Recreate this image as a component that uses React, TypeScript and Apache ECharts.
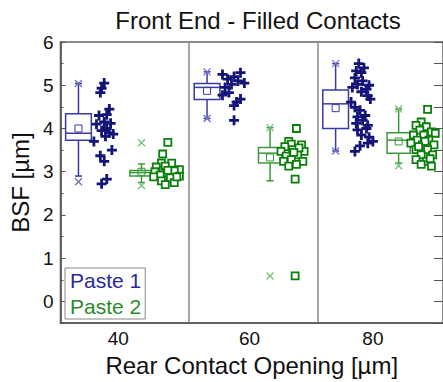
import React, { useEffect, useRef } from "react";
import * as echarts from "echarts";

const categories = ["40", "60", "80"];
const yMajorTicks = [0, 1, 2, 3, 4, 5, 6];
const yMinorTicks = [-0.5, 0.5, 1.5, 2.5, 3.5, 4.5, 5.5];

// box stats per category: [whiskerLow, q1, median, q3, whiskerHigh, mean]
const paste1Box = [
  [2.9, 3.73, 3.89, 4.34, 5.04, 4.0],
  [4.23, 4.67, 4.95, 5.04, 5.31, 4.87],
  [3.48, 4.0, 4.57, 4.89, 5.5, 4.47],
];
const paste2Box = [
  [2.75, 2.9, 2.98, 3.03, 3.18, 3.0],
  [2.79, 3.2, 3.43, 3.56, 4.02, 3.33],
  [3.2, 3.43, 3.73, 3.9, 4.45, 3.7],
];

// extreme markers (x) : [categoryIndex, value]
const paste1Extremes = [
  [0, 5.04], [0, 2.77], [1, 5.31], [1, 4.23], [2, 5.5], [2, 3.48],
];
const paste2Extremes = [
  [0, 3.67], [0, 2.68], [1, 4.02], [1, 0.59], [2, 4.45], [2, 3.14],
];

// raw points: [jitter, value]
const paste1Pts40 = [
  [-0.01, 5.05], [-0.03, 4.93], [-0.04, 4.83], [0.03, 4.45], [0.01, 4.32],
  [-0.05, 4.3], [-0.01, 4.15], [0.04, 4.12], [-0.07, 4.1], [0.01, 4.0],
  [-0.03, 3.95], [0.06, 3.87], [0.0, 3.82], [0.03, 3.9], [-0.09, 3.7],
  [0.05, 3.5], [-0.04, 3.37], [-0.01, 3.24], [0.01, 2.83], [-0.03, 2.72],
];
const paste1Pts60 = [
  [-0.09, 5.25], [0.05, 5.29], [0.0, 5.2], [-0.05, 5.14], [0.08, 5.05],
  [-0.02, 5.02], [0.03, 5.1], [-0.07, 4.95], [-0.04, 4.83], [-0.09, 4.77],
  [0.05, 4.68], [0.02, 4.61], [0.0, 4.53], [0.0, 4.19],
];
const paste1Pts80 = [
  [-0.03, 5.5], [-0.05, 5.33], [-0.01, 5.29], [0.01, 5.4], [-0.06, 5.17],
  [0.0, 5.1], [-0.04, 5.02], [0.05, 5.0], [-0.08, 4.95], [0.03, 4.91],
  [-0.01, 4.85], [0.04, 4.76], [0.06, 4.68], [-0.09, 4.61], [-0.06, 4.49],
  [-0.02, 4.42], [0.02, 4.3], [-0.04, 4.27], [0.0, 4.19], [-0.05, 4.12],
  [0.04, 4.07], [0.03, 4.0], [-0.04, 3.97], [-0.01, 3.85], [0.05, 3.8],
  [0.08, 3.7], [0.04, 3.66], [-0.02, 3.6], [-0.06, 3.47],
];
const paste2Pts40 = [
  [0.0, 3.68], [-0.04, 3.41], [-0.05, 3.2], [0.03, 3.2], [-0.09, 3.11],
  [-0.02, 3.13], [0.09, 3.05], [-0.1, 3.0], [-0.01, 2.98], [0.05, 3.02],
  [-0.06, 2.92], [0.09, 2.9], [0.02, 2.86], [-0.11, 2.88], [-0.05, 2.79],
  [0.05, 2.75], [-0.02, 2.7], [0.0, 3.03], [0.07, 2.88],
];
const paste2Pts60 = [
  [0.0, 4.0], [-0.06, 3.7], [-0.04, 3.64], [-0.09, 3.58], [0.04, 3.62],
  [-0.12, 3.47], [-0.03, 3.51], [0.06, 3.47], [-0.08, 3.36], [0.01, 3.39],
  [-0.04, 3.28], [0.05, 3.24], [-0.1, 3.24], [-0.06, 3.13], [0.0, 3.17],
  [0.02, 3.55], [-0.02, 3.45], [-0.01, 2.83], [-0.01, 0.59],
];
const paste2Pts80 = [
  [0.02, 4.44], [-0.03, 4.15], [-0.07, 4.07], [0.01, 4.04], [-0.04, 3.96],
  [0.05, 3.92], [-0.09, 3.85], [-0.01, 3.85], [0.08, 3.89], [-0.06, 3.73],
  [0.03, 3.73], [-0.11, 3.66], [-0.02, 3.62], [0.07, 3.62], [-0.07, 3.51],
  [0.02, 3.51], [-0.03, 3.39], [0.06, 3.39], [-0.07, 3.28], [0.01, 3.24],
  [0.05, 3.13], [-0.03, 3.17], [0.0, 3.7], [-0.05, 3.58], [0.04, 3.3],
];

// layout (category units)
const X_MAX = 2.975;
const labelPos = [0.45, 1.47, 2.43];
const OFF_BOX1 = 0.14;
const OFF_PTS1 = 0.35;
const OFF_BOX2 = 0.63;
const OFF_PTS2 = 0.835;

const C1_BOX = "#3a3aa6";
const C1_PT = "#141478";
const C1_X = "#7272c4";
const C1_TXT = "#2a2a9c";
const C2_BOX = "#3a9a3a";
const C2_PT = "#0b7f0b";
const C2_X = "#78c078";
const C2_TXT = "#2b8a2b";

const FONT = "Liberation Sans, Arial, sans-serif";

function boxRenderer(color: string, offset: number, widthUnits: number) {
  return (params: any, api: any) => {
    const cat = api.value(0);
    const lo = api.value(1), q1 = api.value(2), med = api.value(3);
    const q3 = api.value(4), hi = api.value(5), mean = api.value(6);
    const cx = api.coord([cat + offset, 0])[0];
    const w = api.size([widthUnits, 0])[0];
    const y = (v: number) => api.coord([0, v])[1];
    const st = { stroke: color, lineWidth: 1.5, fill: "none" };
    const cap = 3.5;
    return {
      type: "group",
      children: [
        { type: "line", shape: { x1: cx, y1: y(q3), x2: cx, y2: y(hi) }, style: st },
        { type: "line", shape: { x1: cx, y1: y(q1), x2: cx, y2: y(lo) }, style: st },
        { type: "line", shape: { x1: cx - cap, y1: y(hi), x2: cx + cap, y2: y(hi) }, style: st },
        { type: "line", shape: { x1: cx - cap, y1: y(lo), x2: cx + cap, y2: y(lo) }, style: st },
        { type: "rect", shape: { x: cx - w / 2, y: y(q3), width: w, height: y(q1) - y(q3) }, style: { stroke: color, lineWidth: 1.5, fill: "#fff" } },
        { type: "line", shape: { x1: cx - w / 2, y1: y(med), x2: cx + w / 2, y2: y(med) }, style: st },
        { type: "rect", shape: { x: cx - 3.5, y: y(mean) - 3.5, width: 7, height: 7 }, style: { stroke: color, lineWidth: 1, fill: "none" } },
      ],
    };
  };
}

function xMarkRenderer(color: string, offset: number) {
  return (params: any, api: any) => {
    const p = api.coord([api.value(0) + offset, api.value(1)]);
    const s = 3.5;
    const st = { stroke: color, lineWidth: 1.3 };
    return {
      type: "group",
      children: [
        { type: "line", shape: { x1: p[0] - s, y1: p[1] - s, x2: p[0] + s, y2: p[1] + s }, style: st },
        { type: "line", shape: { x1: p[0] - s, y1: p[1] + s, x2: p[0] + s, y2: p[1] - s }, style: st },
      ],
    };
  };
}

const PLUS = "path://M3.6,0H6.4V3.6H10V6.4H6.4V10H3.6V6.4H0V3.6H3.6Z";

function placePts(groups: number[][][], offset: number) {
  const out: number[][] = [];
  groups.forEach((g, ci) => g.forEach(([dx, v]) => out.push([ci + offset + dx, v])));
  return out;
}

export default function App() {
  const ref = useRef<HTMLDivElement>(null);
  useEffect(() => {
    document.body.style.margin = "0";
    const chart = echarts.init(ref.current!, null, { renderer: "svg" });
    const box1Data = paste1Box.map((b, i) => [i, ...b]);
    const box2Data = paste2Box.map((b, i) => [i, ...b]);
    const axisColor = "#555";
    const yBase = {
      type: "value",
      min: -0.5,
      max: 6,
      interval: 0.5,
      splitLine: { show: false },
    };
    chart.setOption({
      animation: false,
      title: {
        text: "Front End - Filled Contacts",
        left: 253,
        textAlign: "center",
        top: 3,
        textStyle: { fontFamily: FONT, fontSize: 24, fontWeight: "normal", color: "#111" },
      },
      legend: {
        orient: "vertical",
        left: 65,
        top: 268,
        selectedMode: false,
        icon: "none",
        itemWidth: 0,
        itemHeight: 21,
        itemGap: 5,
        padding: [2, 4, 2, 0],
        borderColor: "#888",
        borderWidth: 1,
        backgroundColor: "#fff",
        data: [
          { name: "Paste 1", textStyle: { color: C1_TXT } },
          { name: "Paste 2", textStyle: { color: C2_TXT } },
        ],
        textStyle: { fontFamily: FONT, fontSize: 21 },
      },
      grid: {
        left: 59,
        top: 42,
        width: 387.5,
        height: 286,
        show: true,
        borderColor: "#666",
        borderWidth: 1.5,
        backgroundColor: "transparent",
      },
      xAxis: [
        {
          type: "value",
          min: 0,
          max: X_MAX,
          interval: 1,
          axisLine: { show: true, onZero: false, lineStyle: { color: axisColor, width: 1.5 } },
          axisTick: { show: false },
          splitLine: { show: false },
          axisLabel: {
            customValues: labelPos,
            formatter: (v: number) => {
              const i = labelPos.findIndex((p) => Math.abs(p - v) < 1e-6);
              return i >= 0 ? categories[i] : "";
            },
            fontFamily: FONT,
            fontSize: 19,
            color: "#111",
            margin: 6,
          },
          name: "Rear Contact Opening [µm]",
          nameLocation: "middle",
          nameGap: 26,
          nameTextStyle: { fontFamily: FONT, fontSize: 24, color: "#111" },
        },
        {
          type: "value",
          min: 0,
          max: X_MAX,
          interval: 1,
          position: "bottom",
          axisLine: { show: false },
          axisTick: { show: false },
          axisLabel: { show: false },
          splitLine: { show: true, lineStyle: { color: "#888", width: 1.5 } },
        },
      ],
      yAxis: [
        {
          ...yBase,
          position: "left",
          axisLine: { show: true, lineStyle: { color: axisColor, width: 1.5 } },
          axisTick: { show: true, inside: true, length: 5, customValues: yMajorTicks, lineStyle: { color: axisColor } },
          axisLabel: {
            customValues: yMajorTicks,
            fontFamily: FONT,
            fontSize: 19,
            color: "#111",
            margin: 7,
          },
          name: "BSF [µm]",
          nameLocation: "middle",
          nameGap: 24,
          nameRotate: 90,
          nameTextStyle: { fontFamily: FONT, fontSize: 24, color: "#111" },
        },
        {
          ...yBase,
          position: "left",
          axisLine: { show: false },
          axisTick: { show: true, inside: true, length: 3, customValues: yMinorTicks, lineStyle: { color: axisColor } },
          axisLabel: { show: false },
        },
        {
          ...yBase,
          position: "right",
          axisLine: { show: false },
          axisTick: { show: true, inside: true, length: 9, lineStyle: { color: axisColor } },
          axisLabel: { show: false },
        },
      ],
      series: [
        {
          name: "Paste 1",
          type: "custom",
          renderItem: boxRenderer(C1_BOX, OFF_BOX1, 0.2),
          data: box1Data,
          z: 3,
        },
        {
          name: "Paste 2",
          type: "custom",
          renderItem: boxRenderer(C2_BOX, OFF_BOX2, 0.18),
          data: box2Data,
          z: 3,
        },
        {
          name: "Paste 1",
          type: "custom",
          renderItem: xMarkRenderer(C1_X, OFF_BOX1),
          data: paste1Extremes,
          z: 4,
        },
        {
          name: "Paste 2",
          type: "custom",
          renderItem: xMarkRenderer(C2_X, OFF_BOX2),
          data: paste2Extremes,
          z: 4,
        },
        {
          name: "Paste 1",
          type: "scatter",
          symbol: PLUS,
          symbolSize: 10,
          itemStyle: { color: C1_PT, opacity: 1 },
          data: placePts([paste1Pts40, paste1Pts60, paste1Pts80], OFF_PTS1),
          z: 5,
        },
        {
          name: "Paste 2",
          type: "scatter",
          symbol: "rect",
          symbolSize: 7,
          itemStyle: { color: "#fff", borderColor: C2_PT, borderWidth: 1.8, opacity: 1 },
          data: placePts([paste2Pts40, paste2Pts60, paste2Pts80], OFF_PTS2),
          z: 5,
        },
      ],
    });
    return () => chart.dispose();
  }, []);
  return <div ref={ref} style={{ width: 443, height: 382 }} />;
}
